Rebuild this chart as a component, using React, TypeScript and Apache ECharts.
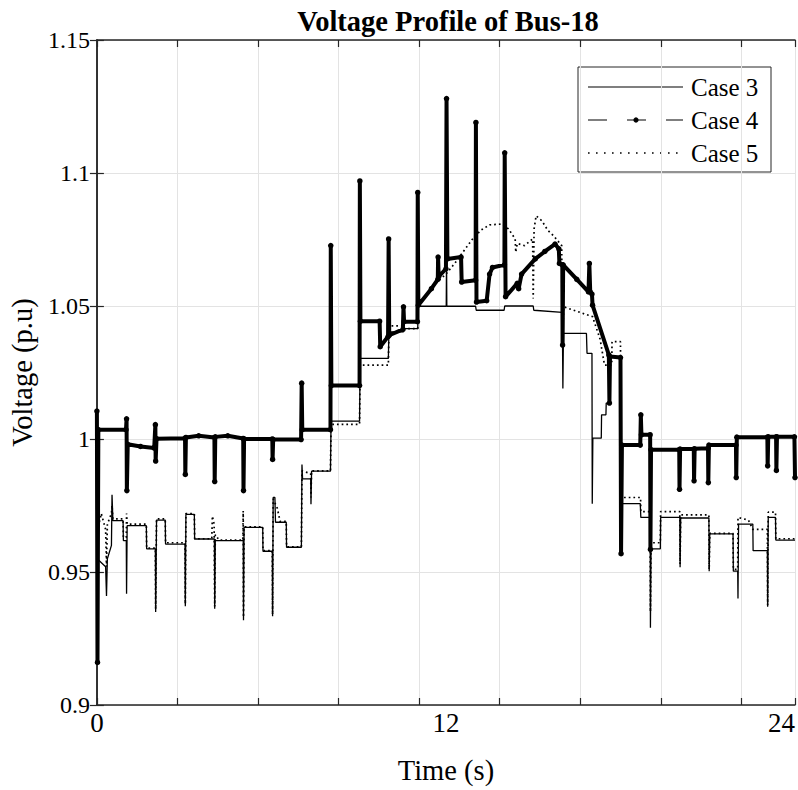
import React, { useEffect, useRef } from "react";
import * as echarts from "echarts";

const chartTitle = "Voltage Profile of Bus-18";
const xAxisName = "Time (s)";
const yAxisName = "Voltage (p.u)";
const seriesNames = ["Case 3", "Case 4", "Case 5"];
const xLabelTicks = [0, 12, 24];

// [time (h), voltage (p.u)]
const case3: number[][] = [
  [0.0, 1.0], [0.01, 0.955], [0.3, 0.952], [0.33, 0.941], [0.36, 0.955], [0.5, 0.96], [0.52, 0.979],
  [0.55, 0.9693], [0.9, 0.9693], [0.91, 0.9618], [1.01, 0.9618], [1.02, 0.9418], [1.04, 0.9674],
  [1.7, 0.9674], [1.71, 0.9587], [2.01, 0.9587], [2.02, 0.935], [2.05, 0.9695], [2.35, 0.9695],
  [2.36, 0.9605], [3.03, 0.9605], [3.04, 0.9371], [3.06, 0.9717], [3.35, 0.9717], [3.36, 0.9624],
  [4.04, 0.9624], [4.05, 0.9362], [4.07, 0.9618], [5.03, 0.9618], [5.04, 0.9319], [5.06, 0.9668],
  [5.7, 0.9668], [5.71, 0.9578], [6.03, 0.9578], [6.04, 0.9334], [6.06, 0.978], [6.12, 0.978],
  [6.14, 0.9687], [6.51, 0.9687], [6.52, 0.9593], [7.03, 0.9593], [7.05, 0.9904], [7.07, 0.985],
  [7.35, 0.985], [7.36, 0.9755], [7.38, 0.9879], [8.03, 0.9879], [8.05, 1.0067], [9.03, 1.0067],
  [9.05, 1.0303], [10.02, 1.0303], [10.04, 1.0403], [10.54, 1.0403], [10.55, 1.0415], [11.03, 1.0415],
  [11.05, 1.0499], [12.01, 1.0499], [12.02, 1.0685], [12.03, 1.0499], [13.02, 1.0499], [13.04, 1.0484],
  [14.0, 1.0484], [14.02, 1.05], [15.0, 1.05], [15.02, 1.0484], [16.0, 1.0476], [16.02, 1.019],
  [16.04, 1.0397], [16.83, 1.0397], [16.85, 1.0322], [17.02, 1.0322], [17.03, 0.9757], [17.05, 1.0003],
  [17.34, 1.0003], [17.35, 1.0091], [17.5, 1.0091], [17.51, 1.0135], [17.62, 1.0135], [17.64, 1.031],
  [18.0, 1.031], [18.02, 0.9757], [18.68, 0.9757], [18.7, 0.9705], [19.02, 0.9705], [19.03, 0.929],
  [19.05, 0.9587], [19.37, 0.9587], [19.38, 0.9705], [20.04, 0.9705], [20.05, 0.9518], [20.07, 0.9703],
  [21.04, 0.9703], [21.05, 0.9503], [21.07, 0.9643], [21.87, 0.9643], [21.88, 0.9503], [22.03, 0.9503],
  [22.04, 0.94], [22.06, 0.968], [22.55, 0.968], [22.56, 0.958], [23.05, 0.958], [23.06, 0.9369],
  [23.08, 0.9705], [23.33, 0.9705], [23.34, 0.962], [24.0, 0.962],
];

const case4: number[][] = [
  [0.0, 1.0105], [0.02, 0.916], [0.05, 1.0035], [1.0, 1.0035], [1.02, 1.0076], [1.03, 0.9806],
  [1.06, 0.998], [1.5, 0.9972], [1.97, 0.9966], [2.01, 1.0054], [2.02, 0.9917], [2.05, 1.0001],
  [3.03, 1.0003], [3.04, 0.9867], [3.06, 1.0006], [3.5, 1.0012], [4.04, 1.0006], [4.05, 0.984],
  [4.07, 1.0008], [4.5, 1.0012], [5.03, 1.0002], [5.04, 0.9806], [5.06, 1.0], [6.03, 1.0],
  [6.04, 0.9923], [6.06, 0.9998], [7.02, 0.9998], [7.04, 1.021], [7.06, 1.0035], [8.03, 1.0035],
  [8.04, 1.0727], [8.06, 1.0201], [9.03, 1.0201], [9.04, 1.097], [9.06, 1.0443], [9.72, 1.0443],
  [9.74, 1.0347], [10.01, 1.0385], [10.03, 1.0752], [10.05, 1.039], [10.52, 1.0412], [10.54, 1.0497],
  [10.56, 1.0441], [11.02, 1.0441], [11.03, 1.0927], [11.05, 1.0503], [11.5, 1.0565], [11.72, 1.06],
  [11.73, 1.0684], [11.75, 1.061], [12.0, 1.064], [12.02, 1.128], [12.05, 1.0677], [12.52, 1.0684],
  [12.54, 1.059], [13.02, 1.0597], [13.03, 1.119], [13.05, 1.0515], [13.4, 1.052], [13.5, 1.062],
  [13.6, 1.0645], [14.01, 1.0655], [14.02, 1.1076], [14.05, 1.0535], [14.45, 1.0585], [14.5, 1.0565],
  [14.6, 1.062], [15.07, 1.0677], [15.4, 1.0705], [15.75, 1.0733], [15.88, 1.0715], [15.9, 1.066],
  [16.0, 1.0655], [16.01, 1.0353], [16.03, 1.0655], [16.5, 1.06], [16.9, 1.0553], [16.93, 1.066],
  [16.96, 1.0553], [17.02, 1.0545], [17.04, 1.0503], [17.6, 1.0316], [17.62, 1.0135], [17.64, 1.031],
  [18.0, 1.0306], [18.02, 0.9569], [18.05, 0.9977], [18.68, 0.9977], [18.7, 1.0091], [18.72, 1.0016],
  [19.02, 1.0016], [19.03, 0.9585], [19.05, 0.996], [20.02, 0.996], [20.03, 0.9811], [20.05, 0.9962],
  [20.52, 0.9962], [20.53, 0.9843], [20.55, 0.9963], [21.01, 0.9965], [21.02, 0.9836], [21.04, 0.9977],
  [21.97, 0.9977], [21.98, 0.9855], [22.0, 1.0007], [23.05, 1.0007], [23.06, 0.9899], [23.08, 1.0008],
  [23.35, 1.0008], [23.36, 0.9882], [23.38, 1.0008], [23.98, 1.0008], [24.0, 0.9855],
];

const case5: number[][] = [
  [0.0, 1.0], [0.01, 0.965], [0.15, 0.972], [0.3, 0.966], [0.33, 0.952], [0.36, 0.968], [0.5, 0.972],
  [0.52, 0.975], [0.55, 0.97], [0.9, 0.97], [0.91, 0.963], [1.01, 0.963], [1.02, 0.972], [1.04, 0.968],
  [1.7, 0.968], [1.71, 0.959], [2.01, 0.959], [2.02, 0.936], [2.05, 0.97], [2.35, 0.97], [2.36, 0.961],
  [3.03, 0.961], [3.04, 0.938], [3.06, 0.972], [3.35, 0.972], [3.36, 0.9625], [3.95, 0.9625],
  [3.97, 0.971], [4.03, 0.968], [4.05, 0.937], [4.07, 0.964], [4.2, 0.962], [5.02, 0.962],
  [5.03, 0.973], [5.04, 0.933], [5.06, 0.967], [5.7, 0.967], [5.71, 0.958], [6.03, 0.958],
  [6.04, 0.934], [6.06, 0.9775], [6.2, 0.974], [6.3, 0.969], [6.51, 0.969], [6.52, 0.9595],
  [7.03, 0.9595], [7.05, 0.988], [7.35, 0.987], [7.36, 0.978], [7.38, 0.988], [8.03, 0.988],
  [8.05, 1.0055], [9.03, 1.0055], [9.05, 1.0278], [10.02, 1.0278], [10.04, 1.0405], [10.1, 1.0425],
  [10.54, 1.0425], [10.56, 1.0415], [11.03, 1.0415], [11.05, 1.0503], [11.35, 1.054], [11.6, 1.058],
  [12.0, 1.062], [12.3, 1.066], [12.6, 1.0705], [12.9, 1.075], [13.2, 1.0785], [13.5, 1.0805],
  [13.9, 1.0808], [14.15, 1.079], [14.38, 1.0752], [14.4, 1.0702], [14.45, 1.0735], [14.7, 1.0727],
  [14.98, 1.0752], [15.0, 1.0528], [15.03, 1.079], [15.1, 1.0839], [15.3, 1.082], [15.5, 1.0785],
  [15.7, 1.0764], [15.98, 1.0727], [16.0, 1.036], [16.05, 1.0497], [16.9, 1.0465], [17.04, 1.046],
  [17.3, 1.0375], [17.45, 1.0278], [17.7, 1.0278], [17.71, 1.0366], [18.0, 1.0366], [18.02, 0.978],
  [18.69, 0.978], [18.7, 0.9727], [19.02, 0.9727], [19.03, 0.935], [19.05, 0.961], [19.37, 0.961],
  [19.38, 0.9727], [20.04, 0.9727], [20.05, 0.953], [20.07, 0.9715], [21.04, 0.9715], [21.05, 0.951],
  [21.07, 0.9645], [21.87, 0.9645], [21.88, 0.951], [22.03, 0.951], [22.04, 0.9705], [22.4, 0.9695],
  [22.55, 0.966], [23.05, 0.966], [23.06, 0.9375], [23.08, 0.9725], [23.33, 0.9725], [23.34, 0.9625],
  [24.0, 0.9625],
];

const FONT = "'Liberation Serif', 'Times New Roman', Times, serif";
const AXIS_COLOR = "#262626";
const GRID_COLOR = "#e3e3e3";

export default function App() {
  const ref = useRef<HTMLDivElement>(null);

  useEffect(() => {
    if (!ref.current) return;
    const chart = echarts.init(ref.current, undefined, { renderer: "svg" });

    const legendX = 578;
    const legendY = 67;
    const rowY = [87, 120, 153];

    const option: any = {
      animation: false,
      backgroundColor: "#ffffff",
      title: {
        text: chartTitle,
        left: 443,
        top: 2,
        textAlign: "center",
        textStyle: { fontFamily: FONT, fontSize: 28.5, fontWeight: "bold", color: "#000" },
      },
      grid: { left: 90, right: 2, top: 40, bottom: 82, containLabel: false },
      xAxis: [
        {
          type: "value", min: 0, max: 26, interval: 3, position: "bottom",
          axisLine: { show: true, lineStyle: { color: AXIS_COLOR, width: 1.5 } },
          axisTick: { show: true, inside: true, length: 7, lineStyle: { color: AXIS_COLOR, width: 1.2 } },
          axisLabel: { show: false },
          splitLine: { show: true, lineStyle: { color: GRID_COLOR, width: 1 } },
        },
        {
          type: "value", min: 0, max: 24, interval: 12, position: "bottom",
          axisLine: { show: false }, axisTick: { show: false }, splitLine: { show: false },
          axisLabel: {
            show: true, fontFamily: FONT, fontSize: 27, color: "#000", margin: 4,
            alignMinLabel: "center", alignMaxLabel: "right",
            formatter: (v: number) => (xLabelTicks.includes(Math.round(v)) ? String(Math.round(v)) : ""),
          },
          name: xAxisName, nameLocation: "middle", nameGap: 51,
          nameTextStyle: { fontFamily: FONT, fontSize: 28.5, color: "#000" },
        },
        {
          type: "value", min: 0, max: 26, interval: 3, position: "top",
          axisLine: { show: true, lineStyle: { color: AXIS_COLOR, width: 1.5 } },
          axisTick: { show: true, inside: true, length: 7, lineStyle: { color: AXIS_COLOR, width: 1.2 } },
          axisLabel: { show: false }, splitLine: { show: false },
        },
      ],
      yAxis: [
        {
          type: "value", min: 0.9, max: 1.15, interval: 0.05, position: "left",
          axisLine: { show: true, lineStyle: { color: AXIS_COLOR, width: 1.5 } },
          axisTick: { show: true, inside: true, length: 7, lineStyle: { color: AXIS_COLOR, width: 1.2 } },
          axisLabel: {
            fontFamily: FONT, fontSize: 24, color: "#000", margin: 7,
            formatter: (v: number) => String(+v.toFixed(2)),
          },
          splitLine: { show: true, lineStyle: { color: GRID_COLOR, width: 1 } },
          name: yAxisName, nameLocation: "middle", nameGap: 55, nameRotate: 90,
          nameTextStyle: { fontFamily: FONT, fontSize: 28.5, color: "#000" },
        },
        {
          type: "value", min: 0.9, max: 1.15, interval: 0.05, position: "right",
          axisLine: { show: true, lineStyle: { color: AXIS_COLOR, width: 1.5 } },
          axisTick: { show: true, inside: true, length: 7, lineStyle: { color: AXIS_COLOR, width: 1.2 } },
          axisLabel: { show: false }, splitLine: { show: false },
        },
      ],
      series: [
        {
          name: seriesNames[0], type: "line", xAxisIndex: 1, yAxisIndex: 0, data: case3,
          showSymbol: false, silent: true,
          lineStyle: { color: "#000", width: 1.3 }, z: 3,
        },
        {
          name: seriesNames[1], type: "line", xAxisIndex: 1, yAxisIndex: 0, data: case4,
          showSymbol: true, symbol: "circle", symbolSize: 5.5, silent: true,
          itemStyle: { color: "#000" },
          lineStyle: { color: "#000", width: 4 }, z: 4,
        },
        {
          name: seriesNames[2], type: "line", xAxisIndex: 1, yAxisIndex: 0, data: case5,
          showSymbol: false, silent: true,
          lineStyle: { color: "#000", width: 1.7, type: [1.7, 3] }, z: 5,
        },
      ],
      graphic: [
        {
          type: "group", z: 100,
          children: [
            {
              type: "rect", shape: { x: legendX, y: legendY, width: 193, height: 105 },
              style: { fill: "#fff", stroke: AXIS_COLOR, lineWidth: 1 },
            },
            {
              type: "line", shape: { x1: 588, y1: rowY[0], x2: 683, y2: rowY[0] },
              style: { stroke: "#000", lineWidth: 1.2 },
            },
            {
              type: "line", shape: { x1: 588, y1: rowY[1], x2: 683, y2: rowY[1] },
              style: { stroke: "#000", lineWidth: 1.2, lineDash: [19, 20] },
            },
            {
              type: "circle", shape: { cx: 636, cy: rowY[1], r: 2.6 },
              style: { fill: "#000" },
            },
            {
              type: "line", shape: { x1: 588, y1: rowY[2], x2: 683, y2: rowY[2] },
              style: { stroke: "#000", lineWidth: 1.6, lineDash: [1.6, 6.4] },
            },
            ...seriesNames.map((n, i) => ({
              type: "text", x: 691, y: rowY[i],
              style: {
                text: n, font: `25px ${FONT}`, fill: "#000",
                verticalAlign: "middle", textVerticalAlign: "middle",
              },
            })),
          ],
        },
      ],
    };

    chart.setOption(option);
    return () => chart.dispose();
  }, []);

  return (
    <div
      ref={ref}
      style={{ position: "fixed", left: 0, top: 0, width: 798, height: 790, background: "#fff" }}
    />
  );
}
